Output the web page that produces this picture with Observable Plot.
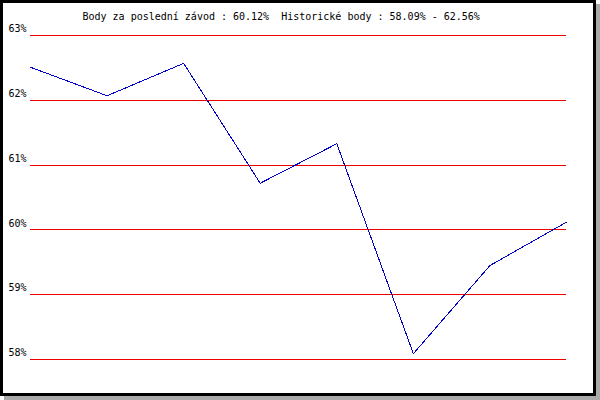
<!DOCTYPE html>
<html>
<head>
<meta charset="utf-8">
<script src="https://cdn.jsdelivr.net/npm/d3@7"></script>
<script src="https://cdn.jsdelivr.net/npm/@observablehq/plot@0.6"></script>
<style>
  html, body { margin: 0; padding: 0; background: white; }
  #frame {
    position: absolute; left: 0; top: 0;
    width: 590px; height: 390px;
    border: 3px solid black;
    box-shadow: 4px 4px 0 #aaaaaa;
    background: white;
  }
  #frame svg { display: block; }
</style>
</head>
<body>
<div id="frame"></div>
<script>
const races = [1, 2, 3, 4, 5, 6, 7, 8];
const points = [62.51, 62.07, 62.57, 60.72, 61.33, 58.09, 59.45, 60.12];
const yTicks = [58, 59, 60, 61, 62, 63];
const title = "Body za poslední závod : 60.12%  Historické body : 58.09% - 62.56%";

const data = races.map((r, i) => ({race: r, value: points[i]}));

const chart = Plot.plot({
  width: 590,
  height: 390,
  marginLeft: 27,
  marginRight: 27,
  marginTop: 32,
  marginBottom: 34,
  style: {fontFamily: "'DejaVu Sans Mono', monospace", fontSize: "10px", color: "black", background: "white"},
  x: {domain: [1, 8], axis: null},
  y: {domain: [58, 63], axis: null},
  marks: [
    Plot.ruleY(yTicks, {stroke: "#ee0000", strokeWidth: 1, shapeRendering: "crispEdges"}),
    Plot.line(data, {x: "race", y: "value", stroke: "#0000cc", strokeWidth: 1, shapeRendering: "crispEdges"}),
    Plot.axisY(yTicks, {tickSize: 0, tickPadding: 4, tickFormat: d => d + "%", dy: -6.5, fill: "black", fontSize: 10, label: null}),
    Plot.text([title], {frameAnchor: "top-left", textAnchor: "start", lineAnchor: "bottom", dx: 52, dy: -16, fill: "black", fontSize: 10})
  ]
});
document.getElementById("frame").appendChild(chart);
</script>
</body>
</html>
